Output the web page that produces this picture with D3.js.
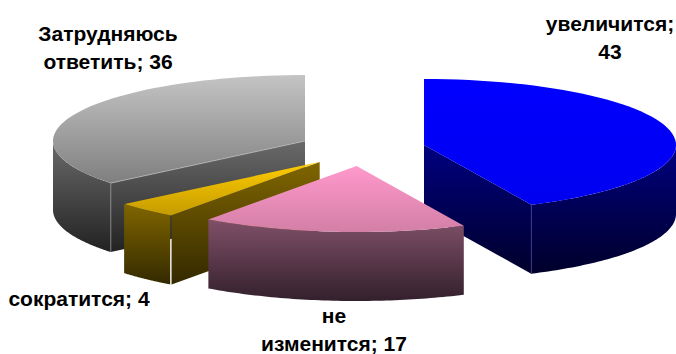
<!DOCTYPE html>
<html><head><meta charset="utf-8">
<script src="https://cdn.jsdelivr.net/npm/d3@7/dist/d3.min.js"></script>
<style>html,body{margin:0;padding:0;background:#fff}svg{display:block}
text{font-family:"Liberation Sans",Arial,sans-serif;font-weight:bold;font-size:21px;fill:#000;text-anchor:middle}</style>
</head><body>
<svg id="c" width="676" height="354"></svg>
<script>
const categories = ["увеличится", "не изменится", "сократится", "Затрудняюсь ответить"];
const values = [43, 17, 4, 36];
const topColors = [["#0000ff", "#0000f0"], ["#ff99cc", "#d37fa6"], ["#ffcc00", "#c49b00"], ["#c4c4c4", "#7f7f7f"]];
const sideColors = [["#000080", "#00002a"], ["#805068", "#33202c"], ["#806600", "#332900"], ["#6a6a6a", "#222222"]];
const drawOrder = [0, 3, 2, 1];
const labelLines = [["увеличится;", "43"], ["не", "изменится; 17"], ["сократится; 4"], ["Затрудняюсь", "ответить; 36"]];

// layout
const centers = [[424, 145], [356.5, 166], [319, 162], [305, 141]];
const labelAnchors = [[610, 31], [334, 323], [79, 306], [108, 41]];
const rx = 252, ry = 66, depth = 69, lineGap = 28;
const sideNudge = [0, 0, 0.7, 0];

const svg = d3.select("#c");
const defs = svg.append("defs");
const arcs = d3.pie().sort(null).startAngle(0).endAngle(2 * Math.PI)(values);
const line = d3.line().x(d => d[0]).y(d => d[1]);
const rim = (i, a, dy = 0) => [centers[i][0] + rx * Math.sin(a), centers[i][1] - ry * Math.cos(a) + dy];
const sweep = (a0, a1) => d3.range(0, 61).map(k => a0 + (a1 - a0) * k / 60);

function gradient(id, colors, pts) {
  const ys = pts.map(p => p[1]);
  const g = defs.append("linearGradient").attr("id", id)
    .attr("gradientUnits", "userSpaceOnUse")
    .attr("x1", 0).attr("x2", 0).attr("y1", d3.min(ys)).attr("y2", d3.max(ys));
  g.append("stop").attr("offset", 0).attr("stop-color", colors[0]);
  g.append("stop").attr("offset", 1).attr("stop-color", colors[1]);
  return `url(#${id})`;
}

drawOrder.forEach(i => {
  const a0 = arcs[i].startAngle, a1 = arcs[i].endAngle;
  const c = centers[i];
  const g = svg.append("g");
  const n = sideNudge[i];
  const topPts = [c].concat(sweep(a0, a1).map(a => rim(i, a)));

  // radial wall that faces the viewer, if any
  const wallAngle = a1 < Math.PI ? a1 : (a0 > Math.PI ? a0 : null);
  let s = null;
  if (wallAngle !== null) {
    s = rim(i, wallAngle);
    const wallFace = [c, s, [s[0], s[1] + depth], [c[0], c[1] + depth]];
    g.append("path").attr("d", line(wallFace) + "Z")
      .attr("transform", `translate(${n},0)`)
      .attr("fill", gradient("wall" + i, sideColors[i], wallFace));
  }

  // outer rim (front half only)
  const frontFrom = Math.max(a0, Math.PI / 2), frontTo = Math.min(a1, 3 * Math.PI / 2);
  const rimFace = sweep(frontFrom, frontTo).map(a => rim(i, a))
    .concat(sweep(frontFrom, frontTo).reverse().map(a => rim(i, a, depth)));
  g.append("path").attr("d", line(rimFace) + "Z")
    .attr("transform", `translate(${-n},0)`)
    .attr("fill", gradient("rim" + i, sideColors[i], rimFace));

  // seam between wall and rim
  if (i === 0 || i === 3) {
    g.append("path").attr("d", line([s, [s[0], s[1] + depth]]))
      .attr("fill", "none").attr("stroke", i === 3 ? "#9a9a9a" : "#3a3a90").attr("stroke-width", 0.7);
  }
  // top surface
  g.append("path").attr("d", line(topPts) + "Z").attr("fill", gradient("top" + i, topColors[i], topPts));
  if (i === 3) {
    g.append("path").attr("d", line([c, s])).attr("fill", "none")
      .attr("stroke", "#b5b5b5").attr("stroke-width", 0.8);
  }
});

labelLines.forEach((lines, i) => {
  const t = svg.append("text").attr("x", labelAnchors[i][0]).attr("y", labelAnchors[i][1]);
  lines.forEach((l, k) => t.append("tspan")
    .attr("x", labelAnchors[i][0]).attr("y", labelAnchors[i][1] + k * lineGap).text(l));
});
</script>
</body></html>
